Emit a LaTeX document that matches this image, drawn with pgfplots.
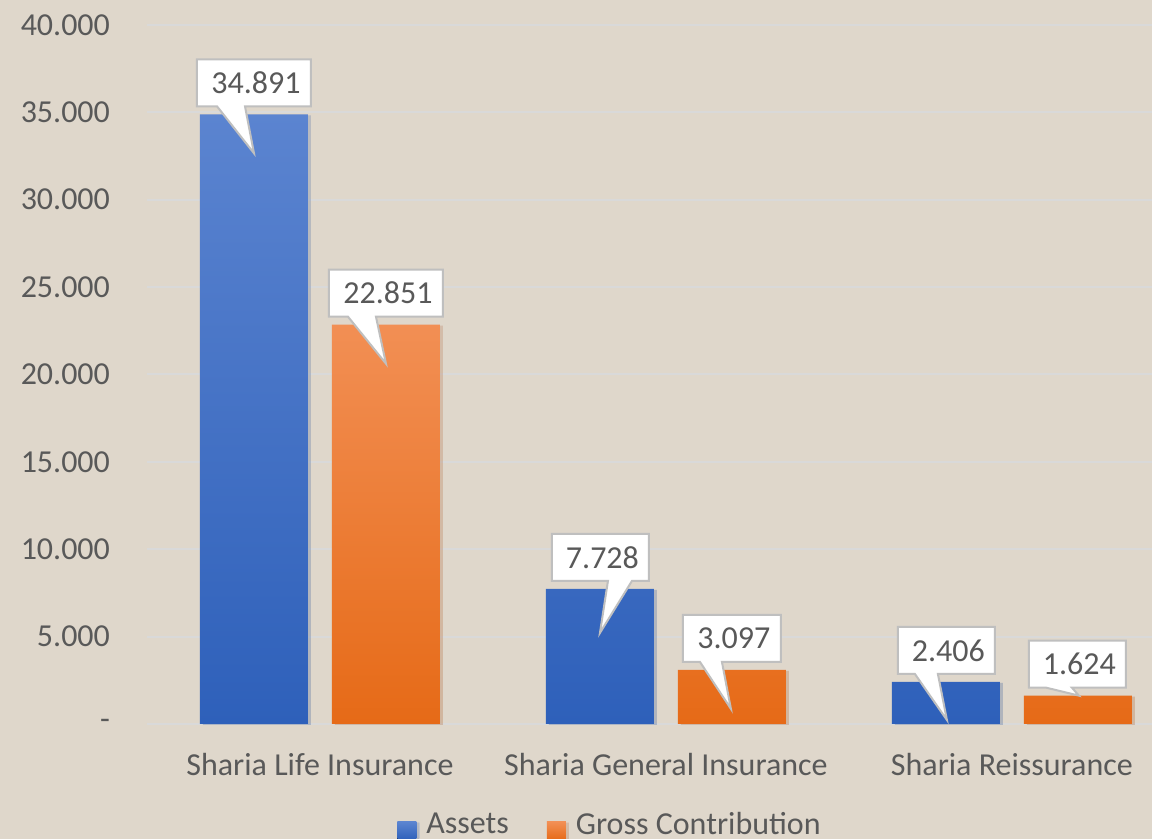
\documentclass[border=0pt]{standalone}
\usepackage{fontspec}
\setmainfont{Carlito}
\usepackage{pgfplots}
\pgfplotsset{compat=1.18}
\usetikzlibrary{backgrounds,shadows}
\definecolor{bg}{HTML}{DFD7CB}
\definecolor{gridc}{HTML}{D9D9D9}
\definecolor{txt}{HTML}{595959}
\definecolor{bluetop}{HTML}{5B84D0}
\definecolor{bluebot}{HTML}{2E60BA}
\definecolor{orgtop}{HTML}{F28F54}
\definecolor{orgbot}{HTML}{E66A17}
\definecolor{boxline}{HTML}{BFBFBF}

% data label callout, offsets in px (y down) from the bar top, 1px = 0.5pt
% #1 x, #2 y, #3 label, #4 box left, #5 box right, #6 base left, #7 base right, #8 tip x, #9 tip y
\newcommand{\callout}[9]{%
  \coordinate (cc) at (axis cs:#1,#2);
  \filldraw[fill=white, draw=boxline, line width=1pt, line join=miter]
    ([shift={(#4*0.5pt,27.5pt)}]cc) -- ([shift={(#5*0.5pt,27.5pt)}]cc)
    -- ([shift={(#5*0.5pt,4pt)}]cc) -- ([shift={(#7*0.5pt,4pt)}]cc)
    -- ([shift={(#8*0.5pt,-#9*0.5pt)}]cc) -- ([shift={(#6*0.5pt,4pt)}]cc)
    -- ([shift={(#4*0.5pt,4pt)}]cc) -- cycle;
  \node[text=txt, inner sep=0pt] at ([shift={(#4*0.25pt+#5*0.25pt+1pt,15.75pt)}]cc) {#3};}

\begin{document}
\begin{tikzpicture}[font=\fontsize{16}{19}\selectfont]
\begin{axis}[
    at={(0,0)}, anchor=south west, scale only axis,
    width=502.5pt, height=349.5pt,
    xmin=-0.5, xmax=2.405, ymin=0, ymax=40000,
    ybar, bar width=0.3121,
    clip=false,
    axis line style={draw=none},
    major tick style={draw=none},
    ymajorgrids, grid style={gridc, line width=1pt},
    scaled y ticks=false,
    ytick={0,5000,...,40000},
    yticklabels={-,5.000,10.000,15.000,20.000,25.000,30.000,35.000,40.000},
    xtick={0,1,2},
    xticklabels={Sharia Life Insurance, Sharia General Insurance, Sharia Reissurance},
    ticklabel style={text=txt},
    yticklabel style={xshift=-15pt},
    xticklabel style={yshift=-7pt},
    legend columns=2,
    legend style={at={(0.4617,0)}, anchor=center, yshift=-50.5pt,
        draw=none, fill=none, text=txt,
        /tikz/every odd column/.append style={column sep=3pt},
        /tikz/every even column/.append style={column sep=17pt}},
    legend image code/.code={\fill[#1] (0pt,-7.5pt) rectangle (9.5pt,1.5pt);},
]

\addplot[draw=none, top color=bluetop, bottom color=bluebot, bar shift=-0.19075,
    drop shadow={shadow xshift=1.5pt, shadow yshift=-0.5pt, opacity=0.18}]
    coordinates {(0,34891) (1,7728) (2,2406)};
\addlegendentry{Assets}

\addplot[draw=none, top color=orgtop, bottom color=orgbot, bar shift=0.19075,
    drop shadow={shadow xshift=1.5pt, shadow yshift=-0.5pt, opacity=0.18}]
    coordinates {(0,22851) (1,3097) (2,1624)};
\addlegendentry{Gross Contribution}

\callout{-0.19075}{34891}{34.891}{-57}{57}{-37}{-9}{0}{39}
\callout{0.80925}{7728}{7.728}{-48}{49}{8}{32}{0}{44}
\callout{1.80925}{2406}{2.406}{-48}{49}{-31}{-8}{1}{38}
\callout{0.19075}{22851}{22.851}{-57}{57}{-38}{-10}{0}{39}
\callout{1.19075}{3097}{3.097}{-49}{49}{-32}{-10}{-1}{39}
\callout{2.19075}{1624}{1.624}{-49}{48}{-32}{-6}{1}{0}

\end{axis}
\begin{scope}[on background layer]
  \fill[bg] (-73.5pt,-57.5pt) rectangle (502.5pt,362pt);
\end{scope}
\pgfresetboundingbox
\path (-73.5pt,-57.5pt) rectangle (502.5pt,362pt);
\end{tikzpicture}
\end{document}
